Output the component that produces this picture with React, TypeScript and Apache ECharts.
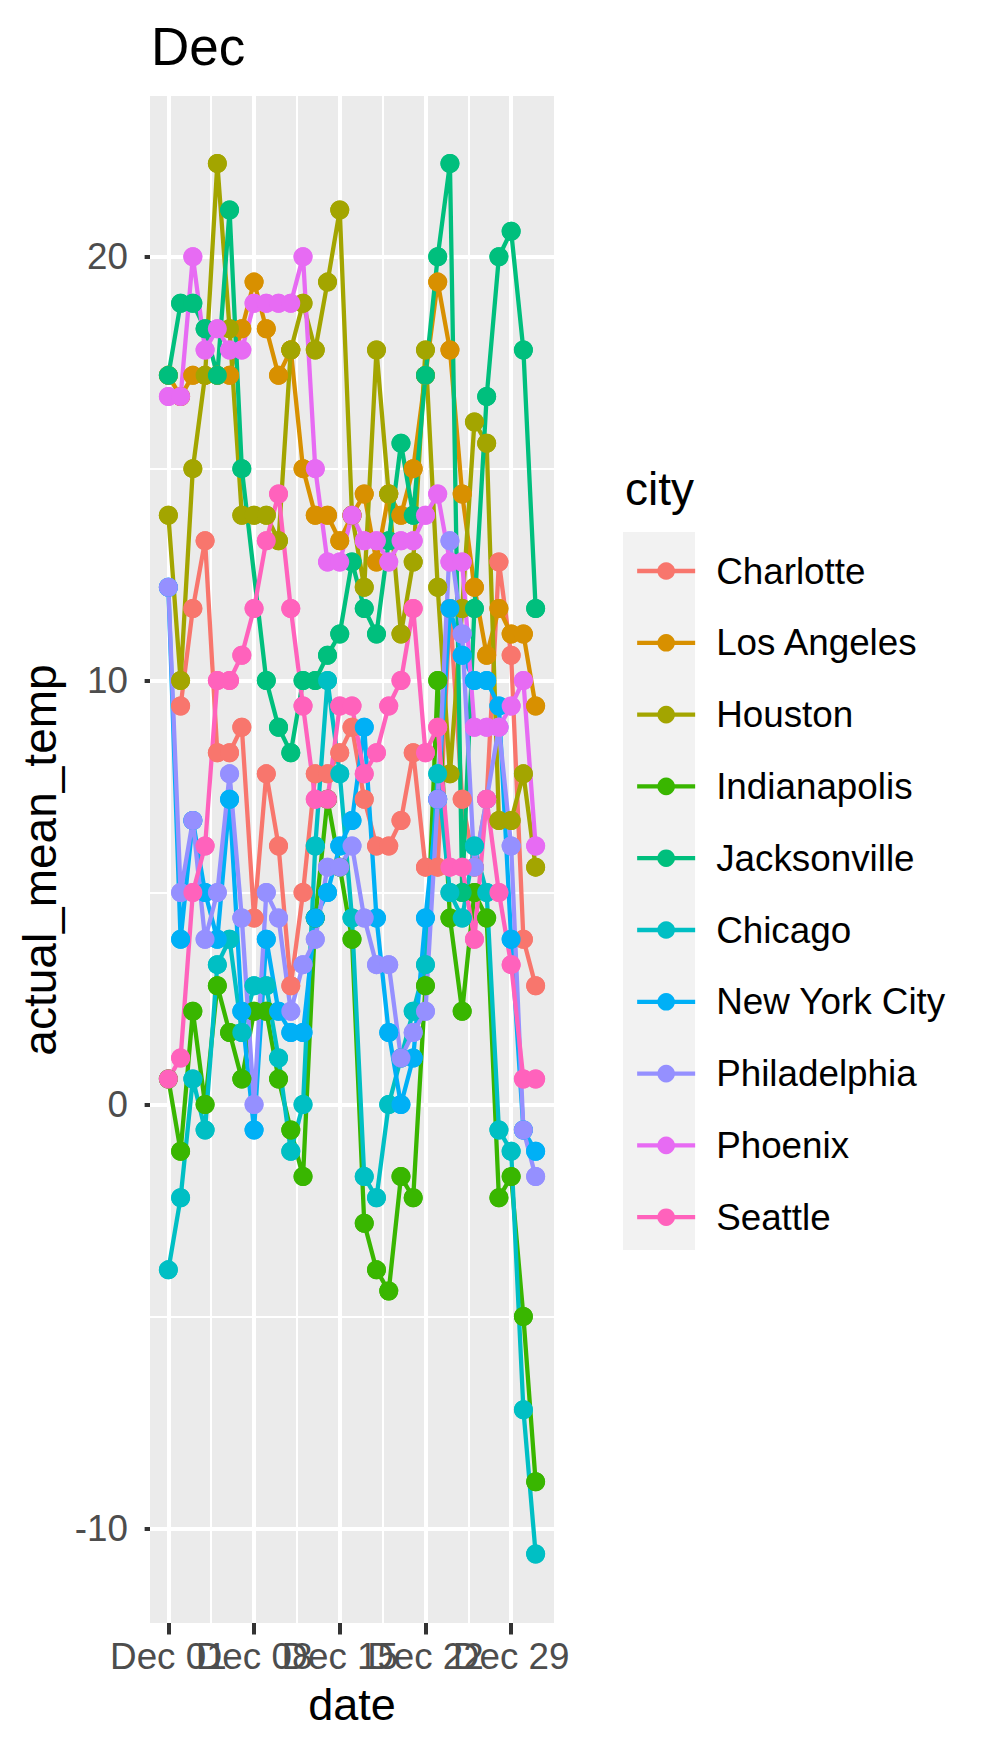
import React, { useEffect, useRef } from "react";
import * as echarts from "echarts";

const days = [1, 2, 3, 4, 5, 6, 7, 8, 9, 10, 11, 12, 13, 14, 15, 16, 17, 18, 19, 20, 21, 22, 23, 24, 25, 26, 27, 28, 29, 30, 31];
const tickDays = [1, 8, 15, 22, 29];
const tickLabels = ["Dec 01", "Dec 08", "Dec 15", "Dec 22", "Dec 29"];
const yTicks = [-10, 0, 10, 20];
const yMinor = [-5, 5, 15];
const xMinor = [4.5, 11.5, 18.5, 25.5];

const cities = ["Charlotte", "Los Angeles", "Houston", "Indianapolis", "Jacksonville", "Chicago", "New York City", "Philadelphia", "Phoenix", "Seattle"];
const colors = ["#F8766D", "#D89000", "#A3A500", "#39B600", "#00BF7D", "#00BFC4", "#00B0F6", "#9590FF", "#E76BF3", "#FF62BC"];

const charlotte = [null, 9.4, 11.7, 13.3, 8.3, 8.3, 8.9, 4.4, 7.8, 6.1, 2.8, 5.0, 7.8, 7.8, 8.3, 8.9, 7.2, 6.1, 6.1, 6.7, 8.3, 5.6, 5.6, 11.7, 7.2, 5.6, 7.2, 12.8, 10.6, 3.9, 2.8];
const losAngeles = [17.2, 16.7, 17.2, 17.2, 17.2, 17.2, 18.3, 19.4, 18.3, 17.2, 17.8, 15.0, 13.9, 13.9, 13.3, 13.9, 14.4, 12.8, 14.4, 13.9, 15.0, 17.2, 19.4, 17.8, 14.4, 12.2, 10.6, 11.7, 11.1, 11.1, 9.4];
const houston = [13.9, 10.0, 15.0, 17.2, 22.2, 18.3, 13.9, 13.9, 13.9, 13.3, 17.8, 18.9, 17.8, 19.4, 21.1, 13.9, 12.2, 17.8, 14.4, 11.1, 12.8, 17.8, 12.2, 7.8, 11.7, 16.1, 15.6, 6.7, 6.7, 7.8, 5.6];
const indianapolis = [0.6, -1.1, 2.2, 0.0, 2.8, 1.7, 0.6, 2.2, 2.2, 0.6, -0.6, -1.7, 4.4, 7.2, 5.6, 3.9, -2.8, -3.9, -4.4, -1.7, -2.2, 2.8, 10.0, 4.4, 2.2, 5.0, 4.4, -2.2, -1.7, -5.0, -8.9];
const jacksonville = [17.2, 18.9, 18.9, 18.3, 17.2, 21.1, 15.0, null, 10.0, 8.9, 8.3, 10.0, 10.0, 10.6, 11.1, 12.8, 11.7, 11.1, 13.3, 15.6, 13.9, 17.2, 20.0, 22.2, 5.0, 11.7, 16.7, 20.0, 20.6, 17.8, 11.7];
const chicago = [-3.9, -2.2, 0.6, -0.6, 3.3, 3.9, 1.7, 2.8, 2.8, 1.1, -1.1, 0.0, 6.1, 10.0, 7.8, 4.4, -1.7, -2.2, 0.0, 1.1, 2.2, 3.3, 7.8, 5.0, 4.4, 6.1, 5.0, -0.6, -1.1, -7.2, -10.6];
const newYorkCity = [12.2, 3.9, 6.7, 5.0, 3.9, 7.2, 2.2, -0.6, 3.9, 2.2, 1.7, 1.7, 4.4, 5.0, 6.1, 6.7, 8.9, 4.4, 1.7, 0.0, 1.1, 4.4, 7.2, 11.7, 10.6, 10.0, 10.0, 9.4, 3.9, -0.6, -1.1];
const philadelphia = [12.2, 5.0, 6.7, 3.9, 5.0, 7.8, 4.4, 0.0, 5.0, 4.4, 2.2, 3.3, 3.9, 5.6, 5.6, 6.1, 4.4, 3.3, 3.3, 1.1, 1.7, 2.2, 7.2, 13.3, 11.1, 5.6, 7.2, 8.9, 6.1, -0.6, -1.7];
const phoenix = [16.7, 16.7, 20.0, 17.8, 18.3, 17.8, 17.8, 18.9, 18.9, 18.9, 18.9, 20.0, 15.0, 12.8, 12.8, 13.9, 13.3, 13.3, 12.8, 13.3, 13.3, 13.9, 14.4, 12.8, 12.8, 8.9, 8.9, 8.9, 9.4, 10.0, 6.1];
const seattle = [0.6, 1.1, 5.0, 6.1, 10.0, 10.0, 10.6, 11.7, 13.3, 14.4, 11.7, 9.4, 7.2, 7.2, 9.4, 9.4, 7.8, 8.3, 9.4, 10.0, 11.7, 8.3, 8.9, 5.6, 5.6, 3.9, 7.2, 5.0, 3.3, 0.6, 0.6];

const temps = [charlotte, losAngeles, houston, indianapolis, jacksonville, chicago, newYorkCity, philadelphia, phoenix, seattle];

const FONT = "'Liberation Sans', Arial, Helvetica, sans-serif";

// two interleaved sets of x labels (they overlap in the reference, so each axis keeps its own set)
const xLabelSets = [[1, 15, 29], [8, 22]];

export default function App() {
  const ref = useRef<HTMLDivElement>(null);
  useEffect(() => {
    const chart = echarts.init(ref.current as HTMLDivElement, null, { renderer: "svg" });

    const gridLines: any[] = [];
    yTicks.forEach((v) => gridLines.push({ yAxis: v, lineStyle: { width: 4 } }));
    yMinor.forEach((v) => gridLines.push({ yAxis: v, lineStyle: { width: 2 } }));
    tickDays.forEach((v) => gridLines.push({ xAxis: v, lineStyle: { width: 4 } }));
    xMinor.forEach((v) => gridLines.push({ xAxis: v, lineStyle: { width: 2 } }));

    const lineSeries = cities.map((c, i) => ({
      name: c,
      type: "line",
      data: days.map((d, k) => [d, temps[i][k]]),
      connectNulls: true,
      symbol: "circle",
      symbolSize: 19,
      showSymbol: true,
      lineStyle: { color: colors[i], width: 4.3 },
      itemStyle: { color: colors[i] },
      z: 2,
      silent: true,
    }));
    const pointSeries = cities.map((c, i) => ({
      name: c,
      type: "scatter",
      data: days.map((d, k) => [d, temps[i][k]]).filter((p) => p[1] !== null),
      symbol: "circle",
      symbolSize: 19,
      itemStyle: { color: colors[i], opacity: 1 },
      z: 3,
      silent: true,
    }));

    const xAxes = xLabelSets.map((set) => ({
      type: "value",
      position: "bottom",
      min: -0.5,
      max: 32.5,
      axisLine: { show: false },
      splitLine: { show: false },
      axisTick: { show: true, length: 11.5, lineStyle: { color: "#333333", width: 4 }, customValues: tickDays },
      axisLabel: {
        customValues: set,
        formatter: (v: number) => tickLabels[tickDays.indexOf(v)] ?? "",
        margin: 15,
        fontFamily: FONT,
        fontSize: 36.8,
        color: "#4D4D4D",
        hideOverlap: false,
        showMinLabel: true,
        showMaxLabel: true,
        alignMinLabel: "center",
        alignMaxLabel: "center",
      },
    }));

    const option: any = {
      animation: false,
      backgroundColor: "#FFFFFF",
      title: {
        text: "Dec",
        left: 151,
        top: 20,
        padding: 0,
        textStyle: { fontFamily: FONT, fontSize: 53, fontWeight: "normal", color: "#000000" },
      },
      grid: {
        left: 150,
        right: 441,
        top: 96,
        bottom: 131,
        containLabel: false,
        outerBoundsMode: "none",
        show: true,
        backgroundColor: "#EBEBEB",
        borderWidth: 0,
      },
      xAxis: xAxes,
      yAxis: {
        type: "value",
        min: -12.23,
        max: 23.79,
        axisLine: { show: false },
        splitLine: { show: false },
        axisTick: { show: true, length: 11.5, lineStyle: { color: "#333333", width: 4 }, customValues: yTicks },
        axisLabel: {
          customValues: yTicks,
          margin: 22,
          fontFamily: FONT,
          fontSize: 36.8,
          color: "#4D4D4D",
          showMinLabel: true,
          showMaxLabel: true,
        },
      },
      legend: {
        orient: "vertical",
        left: 630,
        top: 546,
        itemWidth: 58,
        itemHeight: 22,
        itemGap: 31.8,
        data: cities,
        selectedMode: false,
        lineStyle: { width: 4.3 },
        textStyle: { fontFamily: FONT, fontSize: 36.8, color: "#000000", lineHeight: 40, padding: [0, 0, 0, 16] },
      },
      graphic: [
        { type: "rect", shape: { x: 623, y: 532, width: 72, height: 718 }, style: { fill: "#F2F2F2" }, z: -1 },
        { type: "text", x: 625, y: 489, style: { text: "city", font: `46px ${FONT}`, fill: "#000000", verticalAlign: "middle" } },
        { type: "text", x: 352, y: 1704, style: { text: "date", font: `45px ${FONT}`, fill: "#000000", align: "center", verticalAlign: "middle" } },
        { type: "text", x: 40, y: 860, rotation: Math.PI / 2, style: { text: "actual_mean_temp", font: `46px ${FONT}`, fill: "#000000", align: "center", verticalAlign: "middle" } },
      ],
      series: [
        {
          type: "line",
          data: [],
          z: 1,
          silent: true,
          markLine: {
            silent: true,
            symbol: ["none", "none"],
            label: { show: false },
            z: 1,
            lineStyle: { color: "#FFFFFF", type: "solid" },
            emphasis: { disabled: true },
            data: gridLines,
          },
        },
        ...lineSeries,
        ...pointSeries,
      ],
    };
    chart.setOption(option);
    return () => chart.dispose();
  }, []);
  return <div ref={ref} style={{ width: 995, height: 1754, margin: -8 }} />;
}
